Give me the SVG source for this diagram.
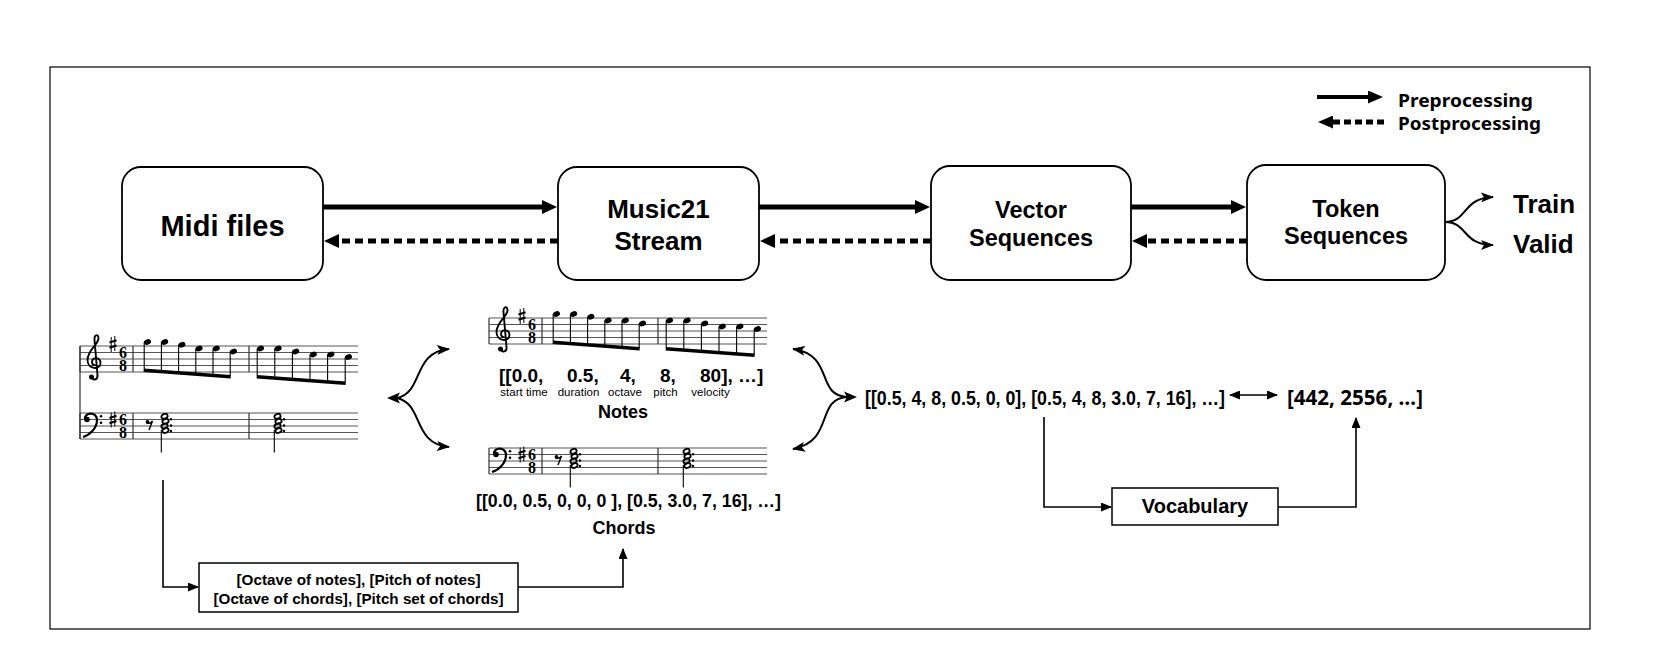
<svg xmlns="http://www.w3.org/2000/svg" xmlns:xlink="http://www.w3.org/1999/xlink" width="1660" height="662" viewBox="0 0 1660 662">
<style>
.box{fill:#fff;stroke:#000;stroke-width:1.8}
.sq{fill:#fff;stroke:#000;stroke-width:1.5}
.t{font-family:"Liberation Sans",Arial,sans-serif;font-weight:bold;fill:#000}
.r{font-family:"Liberation Sans",Arial,sans-serif;fill:#000}
.k{font-family:"Noto Sans","Open Sans",sans-serif;font-weight:bold;fill:#000}
.ts{font-family:"Liberation Serif","Times New Roman",serif;font-weight:bold;font-size:16px;fill:#000}
.solid{stroke:#000;stroke-width:5;fill:none}
.dot{stroke:#000;stroke-width:5;stroke-dasharray:8 5;fill:none}
.ls{stroke:#000;stroke-width:4;fill:none}
.ld{stroke:#000;stroke-width:5;stroke-dasharray:7 4;fill:none}
.thin{stroke:#000;stroke-width:1.6;fill:none}
.curve{stroke:#000;stroke-width:2;fill:none}
.sl{stroke:#555;stroke-width:1}
.bl{stroke:#333;stroke-width:1.2}
.stem{stroke:#000;stroke-width:1.1}
.beam{stroke:#000;stroke-width:3.5}
.head{fill:#000}
.hh{fill:none;stroke:#000;stroke-width:1.8}
</style>
<defs>
<marker id="big" markerUnits="userSpaceOnUse" markerWidth="16" markerHeight="14" refX="1" refY="7" orient="auto"><path d="M0,0 L15,7 L0,14 z" fill="#000"/></marker>
<marker id="leg" markerUnits="userSpaceOnUse" markerWidth="16" markerHeight="13" refX="1" refY="6.5" orient="auto"><path d="M0,0 L15,6.5 L0,13 z" fill="#000"/></marker>
<marker id="sm" markerUnits="userSpaceOnUse" markerWidth="11" markerHeight="9" refX="10" refY="4.5" orient="auto-start-reverse"><path d="M0,0 L11,4.5 L0,9 z" fill="#000"/></marker>
<marker id="cv" markerUnits="userSpaceOnUse" markerWidth="13" markerHeight="10" refX="12" refY="5" orient="auto"><path d="M0,0 L13,5 L0,10 L3,5 z" fill="#000"/></marker>

<g id="gclef">
<circle cx="-2.5" cy="31" r="2.5" fill="#000"/>
<path d="M -2.5,31 C -1,35 4,34 3.5,29 L 0.5,-6 C 0,-11 4,-13 4.5,-8 C 5,-2 -6.5,4 -6.5,14 C -6.5,23.5 6.5,24.5 6.5,17 C 6.5,11 -2,10.5 -2,16 C -2,18.5 0,19.5 1.5,19" fill="none" stroke="#000" stroke-width="1.9"/>
</g>
<g id="fclef">
<circle cx="7" cy="6.5" r="2.8" fill="#000"/>
<path d="M 5,6.5 C 4,-1 17,-2 17,7 C 17,15 10,22 3,24" fill="none" stroke="#000" stroke-width="2.2"/>
<circle cx="21" cy="3.3" r="1.3" fill="#000"/>
<circle cx="21" cy="9.8" r="1.3" fill="#000"/>
</g>
<g id="sharp">
<path d="M -1.8,-7 V 8 M 1.8,-8 V 7" stroke="#000" stroke-width="1"/>
<path d="M -3.5,-1.5 L 3.5,-3.8 M -3.5,3.8 L 3.5,1.5" stroke="#000" stroke-width="2"/>
</g>
<g id="chord">
<ellipse class="hh" cx="0" cy="3.3" rx="3.2" ry="2.3" transform="rotate(-20 0 3.3)"/>
<ellipse class="hh" cx="1" cy="8.3" rx="3.2" ry="2.3" transform="rotate(-20 1 8.3)"/>
<ellipse class="hh" cx="0" cy="13" rx="3.2" ry="2.3" transform="rotate(-20 0 13)"/>
<ellipse class="hh" cx="1" cy="17.5" rx="3.2" ry="2.3" transform="rotate(-20 1 17.5)"/>
<circle cx="6.5" cy="6.3" r="1.2" fill="#000"/>
<circle cx="6.5" cy="12.5" r="1.2" fill="#000"/>
<circle cx="6.5" cy="18" r="1.2" fill="#000"/>
<line class="stem" x1="-3.2" y1="17" x2="-3.2" y2="39.5"/>
</g>

<g id="treble">
<line class="sl" x1="0" y1="0" x2="278" y2="0"/>
<line class="sl" x1="0" y1="6.5" x2="278" y2="6.5"/>
<line class="sl" x1="0" y1="13" x2="278" y2="13"/>
<line class="sl" x1="0" y1="19.5" x2="278" y2="19.5"/>
<line class="sl" x1="0" y1="26" x2="278" y2="26"/>
<line class="bl" x1="0" y1="0" x2="0" y2="26"/>
<line class="bl" x1="53" y1="0" x2="53" y2="26"/>
<line class="bl" x1="169" y1="0" x2="169" y2="26"/>
<use xlink:href="#gclef" x="14" y="0"/>
<use xlink:href="#sharp" x="33" y="-2"/>
<text class="ts" x="43" y="12" text-anchor="middle">6</text>
<text class="ts" x="43" y="25" text-anchor="middle">8</text>
<g class="head">
<ellipse cx="67.5" cy="-4" rx="3.6" ry="2.7" transform="rotate(-20 67.5 -4)"/>
<ellipse cx="84.7" cy="-4" rx="3.6" ry="2.7" transform="rotate(-20 84.7 -4)"/>
<ellipse cx="101.9" cy="-1.2" rx="3.6" ry="2.7" transform="rotate(-20 101.9 -1.2)"/>
<ellipse cx="119.1" cy="2.5" rx="3.6" ry="2.7" transform="rotate(-20 119.1 2.5)"/>
<ellipse cx="136.3" cy="2.5" rx="3.6" ry="2.7" transform="rotate(-20 136.3 2.5)"/>
<ellipse cx="153.5" cy="5.5" rx="3.6" ry="2.7" transform="rotate(-20 153.5 5.5)"/>
<ellipse cx="180.5" cy="2.5" rx="3.6" ry="2.7" transform="rotate(-20 180.5 2.5)"/>
<ellipse cx="198.1" cy="2.5" rx="3.6" ry="2.7" transform="rotate(-20 198.1 2.5)"/>
<ellipse cx="215.7" cy="5.5" rx="3.6" ry="2.7" transform="rotate(-20 215.7 5.5)"/>
<ellipse cx="233.3" cy="8.5" rx="3.6" ry="2.7" transform="rotate(-20 233.3 8.5)"/>
<ellipse cx="250.9" cy="8.5" rx="3.6" ry="2.7" transform="rotate(-20 250.9 8.5)"/>
<ellipse cx="268.5" cy="11" rx="3.6" ry="2.7" transform="rotate(-20 268.5 11)"/>
</g>
<line class="stem" x1="64.2" y1="-4" x2="64.2" y2="23"/>
<line class="stem" x1="81.4" y1="-4" x2="81.4" y2="24.3"/>
<line class="stem" x1="98.6" y1="-1.2" x2="98.6" y2="25.6"/>
<line class="stem" x1="115.8" y1="2.5" x2="115.8" y2="26.9"/>
<line class="stem" x1="133" y1="2.5" x2="133" y2="28.2"/>
<line class="stem" x1="150.2" y1="5.5" x2="150.2" y2="29.5"/>
<line class="beam" x1="63.7" y1="24.2" x2="150.7" y2="30.7"/>
<line class="stem" x1="177.2" y1="2.5" x2="177.2" y2="29.5"/>
<line class="stem" x1="194.8" y1="2.5" x2="194.8" y2="30.8"/>
<line class="stem" x1="212.4" y1="5.5" x2="212.4" y2="32.1"/>
<line class="stem" x1="230" y1="8.5" x2="230" y2="33.4"/>
<line class="stem" x1="247.6" y1="8.5" x2="247.6" y2="34.7"/>
<line class="stem" x1="265.2" y1="11" x2="265.2" y2="36"/>
<line class="beam" x1="176.7" y1="30.7" x2="265.7" y2="37.2"/>
</g>

<g id="bass">
<line class="sl" x1="0" y1="0" x2="278" y2="0"/>
<line class="sl" x1="0" y1="6.5" x2="278" y2="6.5"/>
<line class="sl" x1="0" y1="13" x2="278" y2="13"/>
<line class="sl" x1="0" y1="19.5" x2="278" y2="19.5"/>
<line class="sl" x1="0" y1="26" x2="278" y2="26"/>
<line class="bl" x1="0" y1="0" x2="0" y2="26"/>
<line class="bl" x1="53" y1="0" x2="53" y2="26"/>
<line class="bl" x1="169" y1="0" x2="169" y2="26"/>
<use xlink:href="#fclef" x="0" y="0"/>
<use xlink:href="#sharp" x="33" y="6.5"/>
<text class="ts" x="43" y="12" text-anchor="middle">6</text>
<text class="ts" x="43" y="25" text-anchor="middle">8</text>
<circle cx="67.5" cy="9" r="1.9" fill="#000"/>
<path d="M 67.5,10 Q 70.5,11 72.5,8 L 69,17" fill="none" stroke="#000" stroke-width="1.4"/>
<use xlink:href="#chord" x="84.5" y="0"/>
<use xlink:href="#chord" x="197.5" y="0"/>
</g>
</defs>

<rect x="50" y="67" width="1540" height="562" fill="none" stroke="#000" stroke-width="1.2"/>

<g id="legend">
<line class="ls" x1="1317" y1="97" x2="1369" y2="97" marker-end="url(#leg)"/>
<text class="k" x="1398" y="107" font-size="18" textLength="135" lengthAdjust="spacingAndGlyphs">Preprocessing</text>
<line class="ld" x1="1384" y1="122" x2="1332" y2="122" marker-end="url(#leg)"/>
<text class="k" x="1398" y="130" font-size="18" textLength="143" lengthAdjust="spacingAndGlyphs">Postprocessing</text>
</g>

<g id="midi">
<rect class="box" x="122" y="167" width="201" height="113" rx="19"/>
<text class="t" x="222.5" y="236" font-size="29" text-anchor="middle">Midi files</text>
</g>
<g id="music21">
<rect class="box" x="558" y="167" width="201" height="113" rx="19"/>
<text class="t" x="658.5" y="218" font-size="26" text-anchor="middle">Music21</text>
<text class="t" x="658.5" y="250" font-size="26" text-anchor="middle">Stream</text>
</g>
<g id="vector">
<rect class="box" x="931" y="166" width="200" height="114" rx="19"/>
<text class="t" x="1031" y="218" font-size="23.5" text-anchor="middle">Vector</text>
<text class="t" x="1031" y="246" font-size="23.5" text-anchor="middle">Sequences</text>
</g>
<g id="token">
<rect class="box" x="1247" y="165" width="198" height="115" rx="19"/>
<text class="t" x="1346" y="217" font-size="23.5" text-anchor="middle">Token</text>
<text class="t" x="1346" y="244" font-size="23.5" text-anchor="middle">Sequences</text>
</g>
<g id="train">
<text class="t" x="1513" y="213" font-size="26">Train</text>
</g>
<g id="valid">
<text class="t" x="1513" y="253" font-size="26">Valid</text>
</g>

<g id="score-full">
<use xlink:href="#treble" x="80" y="346"/>
<use xlink:href="#bass" x="80" y="413"/>
<line class="bl" x1="80" y1="346" x2="80" y2="439"/>
</g>

<g id="notes">
<use xlink:href="#treble" x="489" y="318"/>
<text class="t" font-size="19" y="382"><tspan x="499">[[0.0,</tspan><tspan x="567">0.5,</tspan><tspan x="620">4,</tspan><tspan x="660">8,</tspan><tspan x="700">80], …]</tspan></text>
<g class="r" font-size="11.5" text-anchor="middle">
<text x="524" y="396">start time</text>
<text x="578.5" y="396">duration</text>
<text x="625" y="396">octave</text>
<text x="665.5" y="396">pitch</text>
<text x="710.5" y="396">velocity</text>
</g>
<text class="t" x="623" y="418" font-size="18" text-anchor="middle">Notes</text>
</g>

<g id="chords">
<use xlink:href="#bass" x="489" y="448"/>
<text class="t" x="476" y="507" font-size="19" textLength="305" lengthAdjust="spacingAndGlyphs">[[0.0, 0.5, 0, 0, 0 ], [0.5, 3.0, 7, 16], …]</text>
<text class="t" x="624" y="534" font-size="18" text-anchor="middle">Chords</text>
</g>

<g id="attributes">
<rect class="sq" x="199" y="563" width="319" height="49"/>
<text class="t" x="358.5" y="585" font-size="15.5" text-anchor="middle" textLength="244" lengthAdjust="spacingAndGlyphs">[Octave of notes], [Pitch of notes]</text>
<text class="t" x="358.5" y="604" font-size="15.5" text-anchor="middle" textLength="290" lengthAdjust="spacingAndGlyphs">[Octave of chords], [Pitch set of chords]</text>
</g>

<g id="vectors">
<text class="t" x="865" y="405" font-size="19.5" textLength="360" lengthAdjust="spacingAndGlyphs">[[0.5, 4, 8, 0.5, 0, 0], [0.5, 4, 8, 3.0, 7, 16], …]</text>
</g>
<g id="tokens">
<text class="k" x="1287" y="405" font-size="22" textLength="136" lengthAdjust="spacingAndGlyphs">[442, 2556, …]</text>
</g>
<g id="vocabulary">
<rect class="sq" x="1112" y="488" width="166" height="37"/>
<text class="t" x="1195" y="513" font-size="20" text-anchor="middle">Vocabulary</text>
</g>

<g id="connectors">
<line class="solid" x1="323" y1="207" x2="543" y2="207" marker-end="url(#big)"/>
<line class="solid" x1="759" y1="207" x2="916" y2="207" marker-end="url(#big)"/>
<line class="solid" x1="1131" y1="207" x2="1232" y2="207" marker-end="url(#big)"/>
<line class="dot" x1="558" y1="241" x2="338" y2="241" marker-end="url(#big)"/>
<line class="dot" x1="931" y1="241" x2="774" y2="241" marker-end="url(#big)"/>
<line class="dot" x1="1247" y1="241" x2="1146" y2="241" marker-end="url(#big)"/>

<path class="curve" d="M 1445,222 C 1468,222 1462,198 1493,197" marker-end="url(#cv)"/>
<path class="curve" d="M 1445,222 C 1468,222 1462,245 1493,245" marker-end="url(#cv)"/>

<polygon points="387,398 400,392.5 397,398 400,403.5" fill="#000"/>
<path class="curve" d="M 397,398 C 424,392 412,352 449,349" marker-end="url(#cv)"/>
<path class="curve" d="M 397,398 C 424,404 412,444 449,447" marker-end="url(#cv)"/>

<polygon points="857,397 844,391.5 847,397 844,402.5" fill="#000"/>
<path class="curve" d="M 847,397 C 815,395 835,355 793,349" marker-end="url(#cv)"/>
<path class="curve" d="M 847,397 C 815,399 835,441 793,449" marker-end="url(#cv)"/>

<polyline class="thin" points="163,480 163,587 198,587" marker-end="url(#sm)"/>
<polyline class="thin" points="518,587 623,587 623,549" marker-end="url(#sm)"/>

<line class="thin" x1="1230" y1="395" x2="1277" y2="395" marker-start="url(#sm)" marker-end="url(#sm)"/>
<polyline class="thin" points="1044,417 1044,507 1111,507" marker-end="url(#sm)"/>
<polyline class="thin" points="1278,507 1356,507 1356,418" marker-end="url(#sm)"/>
</g>
</svg>
